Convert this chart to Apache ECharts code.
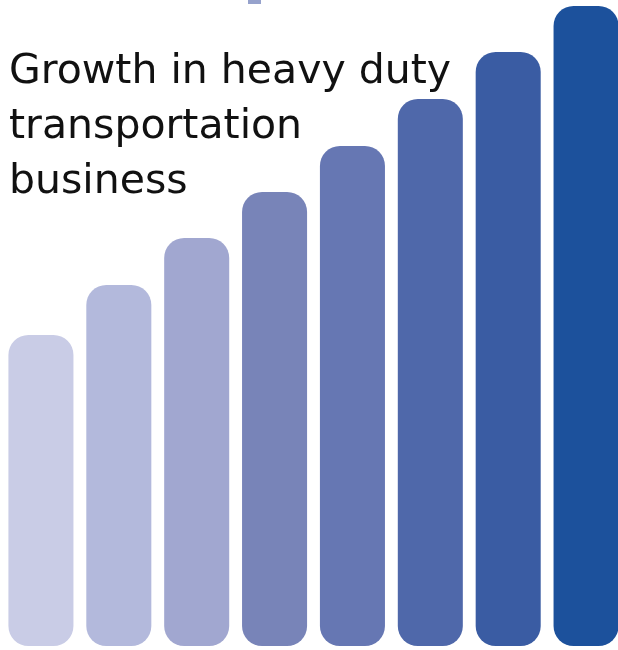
<!DOCTYPE html>
<html><head><meta charset="utf-8">
<script src="https://cdn.jsdelivr.net/npm/echarts@6/dist/echarts.min.js"></script>
<style>html,body{margin:0;padding:0;background:#fff}#c{width:618px;height:650px}</style>
</head><body><div id="c"></div>
<script>
const categories = ['1','2','3','4','5','6','7','8'];
const values = [311, 361, 408, 454, 500, 547, 594, 640];
const colors = ['#c9cce6','#b3b9dc','#a1a7d0','#7884b8','#6677b3','#4f68aa','#3a5ca3','#1c519c'];
const titleLines = ['Growth in heavy duty','transportation','business'];

const chart = echarts.init(document.getElementById('c'), null, {renderer:'canvas'});
chart.setOption({
  animation:false,
  backgroundColor:'#fff',
  title:{
    text: titleLines.join('\n'),
    left: 4, top: 40,
    textStyle:{fontFamily:'DejaVu Sans', fontSize:41, fontWeight:'normal', color:'#111', lineHeight:55}
  },
  graphic:[{type:'rect', left:248, top:0, shape:{width:13, height:4}, style:{fill:'#96a2cc'}}],
  grid:{left:2, width:623, top:6, bottom:4, containLabel:false, outerBoundsMode:'none'},
  xAxis:{type:'category', data:categories, show:false},
  yAxis:{type:'value', min:0, max:640, show:false},
  series:[{
    type:'bar',
    barCategoryGap:'16.5%',
    z:1,
    data: values.map((v,i)=>({value:v, itemStyle:{color:colors[i]}})),
    itemStyle:{borderRadius:20}
  }]
});
</script></body></html>
